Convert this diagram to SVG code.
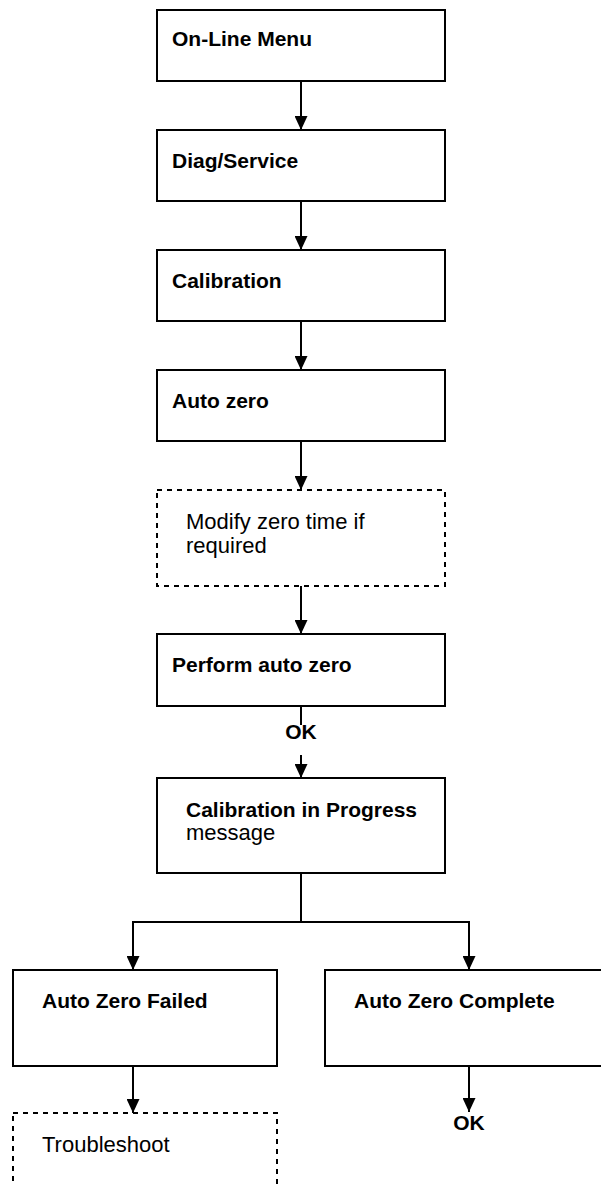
<svg xmlns="http://www.w3.org/2000/svg" width="601" height="1184" viewBox="0 0 601 1184">
  <style>
    .box { fill: #fff; stroke: #000; stroke-width: 2; }
    .dash { fill: none; stroke: #000; stroke-width: 2; stroke-dasharray: 5 5; }
    .b { font-family: "Liberation Sans", Arial, sans-serif; font-weight: bold; font-size: 21px; fill: #000; }
    .r { font-family: "Liberation Sans", Arial, sans-serif; font-size: 22px; fill: #000; }
    .wire { fill: none; stroke: #000; stroke-width: 2; }
  </style>
  <defs>
    <marker id="arrow" markerUnits="userSpaceOnUse" markerWidth="14" markerHeight="13" refX="14" refY="6.5" orient="auto">
      <path d="M0,0 L14,6.5 L0,13 Z" fill="#000"/>
    </marker>
  </defs>
  <rect width="601" height="1184" fill="#fff"/>

  <g id="connectors">
    <line class="wire" x1="301" y1="81" x2="301" y2="130" marker-end="url(#arrow)"/>
    <line class="wire" x1="301" y1="201" x2="301" y2="250" marker-end="url(#arrow)"/>
    <line class="wire" x1="301" y1="321" x2="301" y2="370" marker-end="url(#arrow)"/>
    <line class="wire" x1="301" y1="441" x2="301" y2="490" marker-end="url(#arrow)"/>
    <line class="wire" x1="301" y1="586" x2="301" y2="634" marker-end="url(#arrow)"/>
    <line class="wire" x1="301" y1="706" x2="301" y2="725"/>
    <text class="b" x="301" y="739" text-anchor="middle" font-size="20">OK</text>
    <line class="wire" x1="301" y1="755" x2="301" y2="778" marker-end="url(#arrow)"/>
    <polyline class="wire" points="301,873 301,922 133,922 133,970" marker-end="url(#arrow)"/>
    <polyline class="wire" points="301,922 469,922 469,970" marker-end="url(#arrow)"/>
    <line class="wire" x1="133" y1="1066" x2="133" y2="1113" marker-end="url(#arrow)"/>
    <line class="wire" x1="469" y1="1066" x2="469" y2="1112" marker-end="url(#arrow)"/>
    <text class="b" x="469" y="1130" text-anchor="middle" font-size="20">OK</text>
  </g>

  <g id="online-menu">
    <rect class="box" x="157" y="10" width="288" height="71"/>
    <text class="b" x="172" y="46">On-Line Menu</text>
  </g>
  <g id="diag-service">
    <rect class="box" x="157" y="130" width="288" height="71"/>
    <text class="b" x="172" y="168">Diag/Service</text>
  </g>
  <g id="calibration">
    <rect class="box" x="157" y="250" width="288" height="71"/>
    <text class="b" x="172" y="288">Calibration</text>
  </g>
  <g id="auto-zero">
    <rect class="box" x="157" y="370" width="288" height="71"/>
    <text class="b" x="172" y="408">Auto zero</text>
  </g>
  <g id="modify-zero-time">
    <rect class="dash" x="157" y="490" width="288" height="96"/>
    <text class="r" x="186" y="529">Modify zero time if</text>
    <text class="r" x="186" y="553">required</text>
  </g>
  <g id="perform-auto-zero">
    <rect class="box" x="157" y="634" width="288" height="72"/>
    <text class="b" x="172" y="672">Perform auto zero</text>
  </g>
  <g id="calibration-in-progress">
    <rect class="box" x="157" y="778" width="288" height="95"/>
    <text class="b" x="186" y="817">Calibration in Progress</text>
    <text class="r" x="186" y="840">message</text>
  </g>
  <g id="auto-zero-failed">
    <rect class="box" x="13" y="970" width="264" height="96"/>
    <text class="b" x="42" y="1008">Auto Zero Failed</text>
  </g>
  <g id="auto-zero-complete">
    <rect class="box" x="325" y="970" width="300" height="96"/>
    <text class="b" x="354" y="1008">Auto Zero Complete</text>
  </g>
  <g id="troubleshoot">
    <rect class="dash" x="13" y="1113" width="264" height="100"/>
    <text class="r" x="42" y="1152">Troubleshoot</text>
  </g>
</svg>
